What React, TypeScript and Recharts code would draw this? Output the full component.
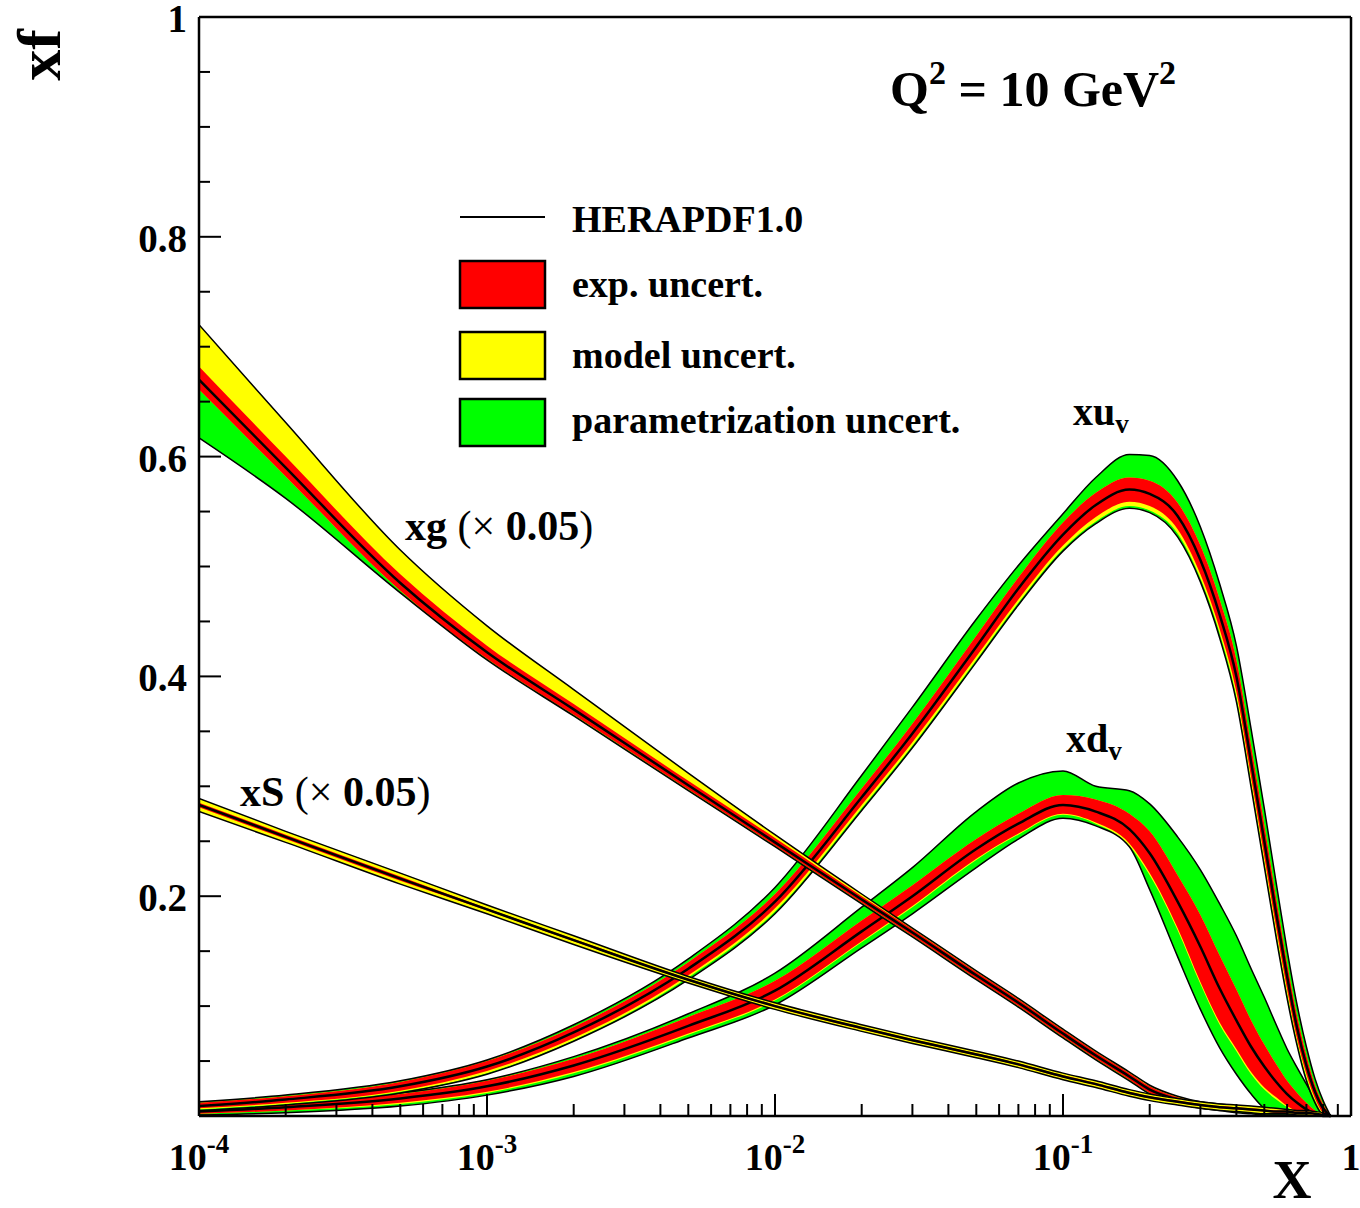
import { ComposedChart, Area, XAxis, YAxis, ReferenceLine } from "recharts"

document.body.style.margin = "0"

const FONT = "'Liberation Serif', 'Times New Roman', serif"

// shared x grid for all distributions
const xGrid = [0.0001, 0.0002, 0.0005, 0.001, 0.002, 0.005, 0.01, 0.02, 0.03, 0.05, 0.07, 0.1, 0.13, 0.17, 0.2, 0.25, 0.3, 0.35, 0.4, 0.45, 0.5, 0.55, 0.6, 0.65, 0.7, 0.75, 0.8, 0.85]

// xd_v
const xdC = [0.004, 0.008, 0.016, 0.027, 0.046, 0.082, 0.114, 0.168, 0.2, 0.243, 0.266, 0.283, 0.277, 0.261, 0.239, 0.195, 0.154, 0.116, 0.087, 0.063, 0.045, 0.031, 0.02, 0.012, 0.006, 0.002, 0, 0]
const xdRLo = [0.002, 0.005, 0.012, 0.022, 0.04, 0.075, 0.106, 0.159, 0.191, 0.234, 0.257, 0.275, 0.267, 0.248, 0.221, 0.171, 0.122, 0.085, 0.061, 0.04, 0.026, 0.017, 0.009, 0.004, 0.001, 0, 0, 0]
const xdRHi = [0.006, 0.011, 0.02, 0.032, 0.052, 0.09, 0.123, 0.178, 0.21, 0.252, 0.275, 0.292, 0.288, 0.275, 0.259, 0.219, 0.183, 0.146, 0.115, 0.087, 0.065, 0.047, 0.032, 0.021, 0.012, 0.005, 0.001, 0]
const xdYLo = [0.002, 0.005, 0.011, 0.021, 0.039, 0.074, 0.105, 0.158, 0.19, 0.233, 0.256, 0.274, 0.266, 0.246, 0.219, 0.169, 0.12, 0.083, 0.059, 0.038, 0.024, 0.015, 0.008, 0.003, 0.001, 0, 0, 0]
const xdGLo = [0.001, 0.003, 0.009, 0.019, 0.036, 0.071, 0.101, 0.153, 0.184, 0.226, 0.252, 0.271, 0.264, 0.245, 0.206, 0.145, 0.097, 0.062, 0.038, 0.02, 0.007, 0.002, 0, 0, 0, 0, 0, 0]
const xdGHi = [0.008, 0.012, 0.021, 0.033, 0.054, 0.093, 0.13, 0.19, 0.226, 0.277, 0.303, 0.314, 0.3, 0.296, 0.284, 0.254, 0.224, 0.193, 0.164, 0.134, 0.108, 0.083, 0.061, 0.044, 0.029, 0.015, 0.005, 0]

// xu_v
const xuC = [0.009, 0.015, 0.027, 0.045, 0.076, 0.134, 0.195, 0.29, 0.348, 0.427, 0.48, 0.529, 0.556, 0.57, 0.566, 0.546, 0.506, 0.456, 0.4, 0.322, 0.25, 0.184, 0.127, 0.08, 0.046, 0.022, 0.007, 0]
const xuRLo = [0.007, 0.012, 0.023, 0.041, 0.071, 0.128, 0.189, 0.283, 0.34, 0.418, 0.47, 0.519, 0.545, 0.559, 0.555, 0.534, 0.493, 0.443, 0.386, 0.308, 0.236, 0.171, 0.115, 0.07, 0.038, 0.016, 0.003, 0]
const xuRHi = [0.012, 0.018, 0.031, 0.05, 0.081, 0.14, 0.202, 0.298, 0.357, 0.437, 0.49, 0.54, 0.567, 0.581, 0.578, 0.558, 0.519, 0.47, 0.415, 0.337, 0.265, 0.198, 0.139, 0.091, 0.055, 0.028, 0.011, 0]
const xuYLo = [0.006, 0.011, 0.022, 0.039, 0.069, 0.126, 0.186, 0.28, 0.337, 0.415, 0.467, 0.516, 0.541, 0.555, 0.551, 0.53, 0.489, 0.439, 0.381, 0.303, 0.231, 0.166, 0.111, 0.067, 0.035, 0.014, 0.002, 0]
const xuGLo = [0.005, 0.01, 0.021, 0.038, 0.068, 0.124, 0.184, 0.278, 0.335, 0.413, 0.465, 0.514, 0.539, 0.553, 0.549, 0.527, 0.486, 0.435, 0.377, 0.299, 0.227, 0.162, 0.107, 0.064, 0.032, 0.012, 0.001, 0]
const xuGHi = [0.013, 0.019, 0.032, 0.051, 0.083, 0.143, 0.208, 0.31, 0.372, 0.452, 0.501, 0.548, 0.581, 0.602, 0.601, 0.578, 0.536, 0.484, 0.428, 0.352, 0.28, 0.212, 0.151, 0.101, 0.063, 0.034, 0.014, 0]

// xg (x 0.05)
const xgC = [0.67, 0.59, 0.485, 0.422, 0.37, 0.301, 0.249, 0.197, 0.167, 0.128, 0.103, 0.075, 0.055, 0.036, 0.024, 0.015, 0.01, 0.008, 0.006, 0.005, 0.004, 0.003, 0.003, 0.002, 0.002, 0.001, 0.001, 0]
const xgRLo = [0.661, 0.582, 0.478, 0.416, 0.365, 0.297, 0.246, 0.194, 0.164, 0.125, 0.1, 0.072, 0.052, 0.033, 0.021, 0.013, 0.008, 0.006, 0.004, 0.003, 0.002, 0.002, 0.002, 0.001, 0.001, 0, 0, 0]
const xgRHi = [0.682, 0.6, 0.493, 0.428, 0.375, 0.305, 0.253, 0.2, 0.17, 0.131, 0.106, 0.078, 0.058, 0.039, 0.027, 0.017, 0.012, 0.01, 0.008, 0.007, 0.006, 0.005, 0.004, 0.003, 0.003, 0.002, 0.002, 0]
const xgYHi = [0.72, 0.631, 0.515, 0.446, 0.388, 0.312, 0.256, 0.202, 0.171, 0.132, 0.107, 0.079, 0.059, 0.04, 0.028, 0.018, 0.013, 0.011, 0.009, 0.008, 0.007, 0.006, 0.005, 0.004, 0.004, 0.003, 0.002, 0]
const xgGLo = [0.617, 0.562, 0.476, 0.415, 0.364, 0.296, 0.245, 0.193, 0.163, 0.124, 0.099, 0.071, 0.051, 0.032, 0.02, 0.012, 0.007, 0.005, 0.003, 0.002, 0.001, 0.001, 0.001, 0, 0, 0, 0, 0]

// xS (x 0.05)
const xsC = [0.283, 0.254, 0.216, 0.188, 0.16, 0.124, 0.1, 0.08, 0.069, 0.056, 0.047, 0.036, 0.029, 0.021, 0.017, 0.013, 0.01, 0.008, 0.007, 0.006, 0.005, 0.004, 0.004, 0.003, 0.003, 0.002, 0.001, 0]
const xsRLo = [0.281, 0.252, 0.214, 0.187, 0.159, 0.123, 0.099, 0.079, 0.068, 0.055, 0.046, 0.035, 0.028, 0.02, 0.016, 0.012, 0.009, 0.007, 0.006, 0.005, 0.004, 0.003, 0.003, 0.002, 0.002, 0.001, 0, 0]
const xsRHi = [0.285, 0.256, 0.218, 0.189, 0.161, 0.125, 0.101, 0.081, 0.07, 0.057, 0.048, 0.037, 0.03, 0.022, 0.018, 0.014, 0.011, 0.009, 0.008, 0.007, 0.006, 0.005, 0.005, 0.004, 0.004, 0.003, 0.002, 0]
const xsYLo = [0.277, 0.249, 0.211, 0.184, 0.156, 0.121, 0.097, 0.077, 0.066, 0.053, 0.044, 0.033, 0.026, 0.018, 0.014, 0.01, 0.007, 0.005, 0.004, 0.003, 0.002, 0.002, 0.002, 0.001, 0.001, 0, 0, 0]
const xsYHi = [0.289, 0.259, 0.221, 0.192, 0.164, 0.127, 0.103, 0.083, 0.072, 0.059, 0.05, 0.039, 0.032, 0.024, 0.02, 0.016, 0.013, 0.011, 0.01, 0.009, 0.008, 0.007, 0.006, 0.005, 0.005, 0.004, 0.003, 0]

const pdfs = [
  { id: "xd", c: xdC, rLo: xdRLo, rHi: xdRHi, yLo: xdYLo, yHi: xdRHi, gLo: xdGLo, gHi: xdGHi },
  { id: "xu", c: xuC, rLo: xuRLo, rHi: xuRHi, yLo: xuYLo, yHi: xuRHi, gLo: xuGLo, gHi: xuGHi },
  { id: "xg", c: xgC, rLo: xgRLo, rHi: xgRHi, yLo: xgRLo, yHi: xgYHi, gLo: xgGLo, gHi: xgYHi },
  { id: "xs", c: xsC, rLo: xsRLo, rHi: xsRHi, yLo: xsYLo, yHi: xsYHi, gLo: xsYLo, gHi: xsYHi },
]

const rows = xGrid.map((x, i) => {
  const row: Record<string, number | number[]> = { x }
  for (const p of pdfs) {
    row[p.id + "G"] = [p.gLo[i], p.gHi[i]]
    row[p.id + "Y"] = [p.yLo[i], p.yHi[i]]
    row[p.id + "R"] = [p.rLo[i], p.rHi[i]]
    row[p.id + "O"] = [p.gLo[i], p.gHi[i]]
    row[p.id] = p.c[i]
  }
  return row
})

// axis ticks
const xDecades = [0.0001, 0.001, 0.01, 0.1, 1]
const xDecadeExp = ["-4", "-3", "-2", "-1", ""]
const xMinorSteps = [2, 3, 4, 5, 6, 7, 8, 9]
const xTicks = xDecades.flatMap((d, i) => (i < xDecades.length - 1 ? [d, ...xMinorSteps.map((m) => d * m)] : [d]))

const yTicks = [0, 0.05, 0.1, 0.15, 0.2, 0.25, 0.3, 0.35, 0.4, 0.45, 0.5, 0.55, 0.6, 0.65, 0.7, 0.75, 0.8, 0.85, 0.9, 0.95, 1]
const yMajor = [0.2, 0.4, 0.6, 0.8, 1]
const yMajorLabels = ["0.2", "0.4", "0.6", "0.8", "1"]

const legendItems = [
  { label: "HERAPDF1.0", color: "" },
  { label: "exp. uncert.", color: "#ff0000" },
  { label: "model uncert.", color: "#ffff00" },
  { label: "parametrization uncert.", color: "#00ff00" },
]

function XTick(props: any) {
  const { x, y, payload } = props
  const v = payload.value
  const i = xDecades.findIndex((d) => Math.abs(d - v) / d < 1e-6)
  const major = i >= 0
  return (
    <g>
      <line x1={x} x2={x} y1={y} y2={y - (major ? 22 : 12)} stroke="#000" strokeWidth={2} />
      {major && (
        <text x={x} y={y + 54} textAnchor="middle" fontFamily={FONT} fontWeight={700} fontSize={38} fill="#000">
          {xDecadeExp[i] === "" ? (
            "1"
          ) : (
            <>
              10
              <tspan dy={-17} fontSize={27}>
                {xDecadeExp[i]}
              </tspan>
            </>
          )}
        </text>
      )}
    </g>
  )
}

function YTick(props: any) {
  const { x, y, payload } = props
  const v = payload.value
  const i = yMajor.findIndex((m) => Math.abs(m - v) < 1e-6)
  const major = i >= 0 || Math.abs(v) < 1e-6
  return (
    <g>
      <line x1={x} x2={x + (major ? 22 : 11)} y1={y} y2={y} stroke="#000" strokeWidth={2} />
      {i >= 0 && (
        <text x={x - 12} y={y + 15} textAnchor="end" fontFamily={FONT} fontWeight={700} fontSize={39} fill="#000">
          {yMajorLabels[i]}
        </text>
      )}
    </g>
  )
}

function bandSeries(id: string) {
  const common = { type: "monotone" as const, isAnimationActive: false, dot: false, activeDot: false }
  return [
    <Area key={id + "G"} dataKey={id + "G"} {...common} fill="#00ff00" fillOpacity={1} stroke="none" />,
    <Area key={id + "Y"} dataKey={id + "Y"} {...common} fill="#ffff00" fillOpacity={1} stroke="none" />,
    <Area key={id + "R"} dataKey={id + "R"} {...common} fill="#ff0000" fillOpacity={1} stroke="none" />,
    <Area key={id + "O"} dataKey={id + "O"} {...common} fill="none" stroke="#000" strokeWidth={1.5} />,
    <Area key={id + "C"} dataKey={id} {...common} fill="none" stroke="#000" strokeWidth={2.5} />,
  ]
}

export default function App() {
  return (
    <div style={{ position: "relative", width: 1360, height: 1208, background: "#fff" }}>
      <ComposedChart width={1360} height={1208} data={rows} margin={{ top: 17, right: 9, bottom: 0, left: 0 }}>
        <XAxis
          dataKey="x"
          type="number"
          scale="log"
          domain={[0.0001, 1]}
          ticks={xTicks}
          interval={0}
          allowDataOverflow
          height={92}
          tickSize={0}
          tickMargin={0}
          tickLine={false}
          axisLine={{ stroke: "#000", strokeWidth: 2.5 }}
          tick={(p: any) => <XTick {...p} />}
        />
        <YAxis
          type="number"
          domain={[0, 1]}
          ticks={yTicks}
          interval={0}
          width={199}
          tickSize={0}
          tickMargin={0}
          tickLine={false}
          axisLine={{ stroke: "#000", strokeWidth: 2.5 }}
          tick={(p: any) => <YTick {...p} />}
        />
        {pdfs.flatMap((p) => bandSeries(p.id))}
        <ReferenceLine y={1} stroke="#000" strokeWidth={2.5} />
        <ReferenceLine x={1} stroke="#000" strokeWidth={2.5} />
      </ComposedChart>
      <svg width={1360} height={1208} style={{ position: "absolute", left: 0, top: 0, pointerEvents: "none" }}>
        <g fontFamily={FONT} fontWeight={700} fill="#000">
          <text x={60} y={55} fontSize={62} textAnchor="middle" transform="rotate(-90 60 55)">
            xf
          </text>
          <text x={1292} y={1198} fontSize={54} textAnchor="middle">
            X
          </text>
          <text x={890} y={106} fontSize={50}>
            Q<tspan fontSize={34} dy={-22}>2</tspan>
            <tspan dy={22}> = 10 GeV</tspan>
            <tspan fontSize={34} dy={-22}>2</tspan>
          </text>
          {legendItems.map((it, i) => {
            const ys = [232, 297, 368, 433]
            const boxTop = [0, 261, 332, 399]
            return (
              <g key={it.label}>
                {it.color === "" ? (
                  <line x1={460} x2={545} y1={217} y2={217} stroke="#000" strokeWidth={2} />
                ) : (
                  <rect x={460} y={boxTop[i]} width={85} height={47} fill={it.color} stroke="#000" strokeWidth={2.5} />
                )}
                <text x={572} y={ys[i]} fontSize={38}>
                  {it.label}
                </text>
              </g>
            )
          })}
          <text x={405} y={540} fontSize={42}>
            xg{" "}
            <tspan fontWeight={400}>(×</tspan> 0.05<tspan fontWeight={400}>)</tspan>
          </text>
          <text x={240} y={806} fontSize={42}>
            xS{" "}
            <tspan fontWeight={400}>(×</tspan> 0.05<tspan fontWeight={400}>)</tspan>
          </text>
          <text x={1073} y={425} fontSize={40}>
            xu<tspan fontSize={27} dy={8}>v</tspan>
          </text>
          <text x={1066} y={752} fontSize={40}>
            xd<tspan fontSize={27} dy={8}>v</tspan>
          </text>
        </g>
      </svg>
    </div>
  )
}
